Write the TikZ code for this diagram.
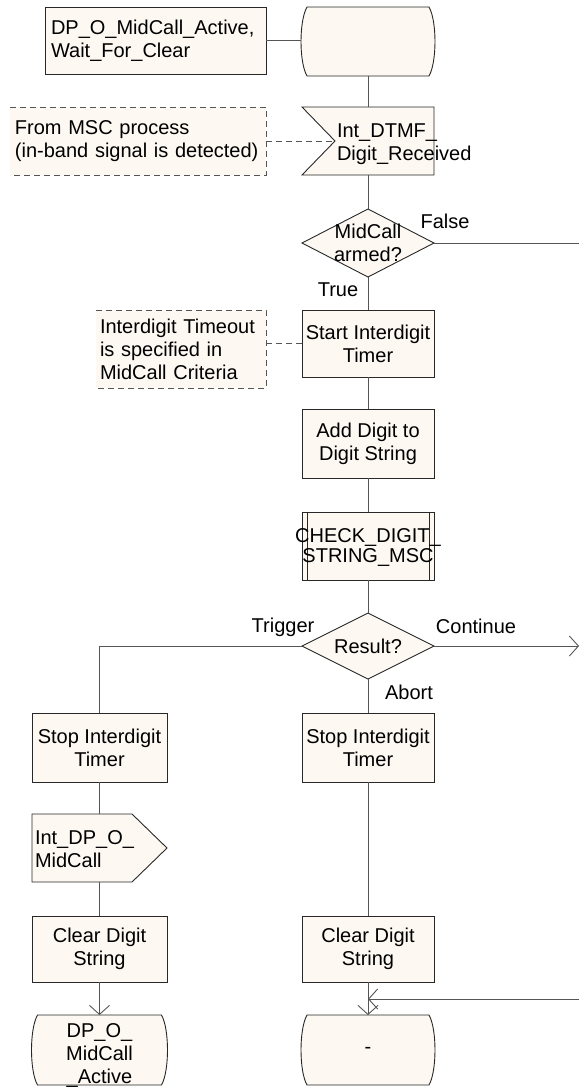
\documentclass[tikz,border=0pt]{standalone}
\usepackage{fontspec}
\setmainfont{Liberation Sans}
\usetikzlibrary{arrows.meta,backgrounds}
\definecolor{boxfill}{RGB}{253,248,242}
\definecolor{edgec}{RGB}{40,40,40}
\definecolor{wirec}{RGB}{85,85,85}
\newcommand\sdlstate[1]{\draw[boxline, fill=boxfill] ([xshift=6pt]#1.north west) -- ([xshift=-6pt]#1.north east) .. controls ([xshift=2pt,yshift=-14pt]#1.north east) and ([xshift=2pt,yshift=14pt]#1.south east) .. ([xshift=-6pt]#1.south east) -- ([xshift=6pt]#1.south west) .. controls ([xshift=-2pt,yshift=14pt]#1.south west) and ([xshift=-2pt,yshift=-14pt]#1.north west) .. cycle;}
\begin{document}
\begin{tikzpicture}[x=1pt,y=-1pt,
  every node/.style={inner sep=0pt, outer sep=0pt, font=\fontsize{20}{23}\selectfont},
  boxline/.style={draw=edgec, line width=0.9pt},
  taskbox/.style={boxline, fill=boxfill, minimum width=132pt, align=center},
  wire/.style={draw=wirec, line width=0.9pt},
  note/.style={draw=wirec, line width=0.9pt, dash pattern=on 6pt off 4pt},
  barb/.style={-{Straight Barb[length=9pt,width=20pt]}}
]
\useasboundingbox (0,0) rectangle (579,1088);

% nodes
\node[taskbox, minimum width=221pt, minimum height=67pt, text width=209pt, inner xsep=6pt, align=left] (hdr) at (155.5,40.5) {DP\_O\_MidCall\_Active,\\Wait\_For\_Clear};
\node[minimum width=134pt, minimum height=69pt] (s0) at (368,41.5) {};

\node[fill=boxfill, minimum width=256pt, minimum height=68pt, text width=246pt, inner xsep=5pt, align=left] (c1) at (138,141) {From MSC process\\(in-band signal is detected)};
\node[minimum width=132pt, minimum height=68pt] (in1) at (368,141) {};

\node[minimum width=132pt, minimum height=68pt, align=center] (d1) at (368,243) {MidCall\\armed?};

\node[taskbox, minimum height=67pt] (start) at (368,343.5) {Start Interdigit\\Timer};
\node[fill=boxfill, minimum width=170pt, minimum height=78pt, text width=162pt, inner xsep=4pt, align=left] (c2) at (181,349) {Interdigit Timeout\\is specified in\\MidCall Criteria};

\node[taskbox, minimum height=69pt] (add) at (368,443.5) {Add Digit to\\Digit String};
\node[taskbox, minimum height=68pt] (chk) at (368,546) {};
\draw[boxline] ([xshift=5pt]chk.north west) -- ([xshift=5pt]chk.south west);
\draw[boxline] ([xshift=-5pt]chk.north east) -- ([xshift=-5pt]chk.south east);
\node[font=\fontsize{20}{20}\selectfont, align=center] (chkt) at (368,547) {CHECK\_DIGIT\_\\STRING\_MSC};

\node[minimum width=132pt, minimum height=66pt] (res) at (368,646) {Result?};

\node[taskbox, minimum width=135pt, minimum height=69pt] (stopL) at (99.5,747.5) {Stop Interdigit\\Timer};
\node[taskbox, minimum height=69pt] (stopM) at (368,747.5) {Stop Interdigit\\Timer};
\node[minimum width=135pt, minimum height=68pt] (outL) at (99.5,848) {};
\node[taskbox, minimum width=135pt, minimum height=66pt] (clrL) at (99.5,949) {Clear Digit\\String};
\node[taskbox, minimum height=66pt] (clrM) at (368,949) {Clear Digit\\String};
\node[minimum width=136pt, minimum height=70pt] (stL) at (99.5,1050) {};
\node[minimum width=134pt, minimum height=70pt] (stM) at (368,1050) {-};

\coordinate (falseEnd) at (579,243);
\coordinate (contEnd) at (579,646);
\coordinate (loopIn) at (579,999);

% shape outlines
\begin{pgfonlayer}{background}
\sdlstate{s0}
\sdlstate{stL}
\sdlstate{stM}
\draw[boxline, fill=boxfill] (in1.north west) -- (in1.north east) -- (in1.south east) -- (in1.south west) -- ([xshift=33pt]in1.west) -- cycle;
\draw[boxline, fill=boxfill] (d1.north) -- (d1.east) -- (d1.south) -- (d1.west) -- cycle;
\draw[boxline, fill=boxfill] (res.north) -- (res.east) -- (res.south) -- (res.west) -- cycle;
\draw[boxline, fill=boxfill] (outL.north west) -- ([xshift=-35pt]outL.north east) -- (outL.east) -- ([xshift=-35pt]outL.south east) -- (outL.south west) -- cycle;
\end{pgfonlayer}

% texts placed over shapes
\node[anchor=west, align=left] (in1t) at (337,144) {Int\_DTMF\_\\Digit\_Received};
\node[anchor=west, align=left] (outLt) at (35,849) {Int\_DP\_O\_\\MidCall};
\node[align=center] (stLt) at (99.5,1055) {DP\_O\_\\MidCall\\\_Active};

% comment borders
\draw[note] (c1.north west) -- (c1.north east) -- (c1.south east) -- (c1.south west);
\draw[note] (c2.north west) -- (c2.north east) -- (c2.south east) -- (c2.south west);

% connectors
\draw[wire] (hdr.east) -- (hdr.east -| s0.west);
\draw[wire] (s0.south) -- (in1.north);
\draw[note] (c1.east) -- ([xshift=33pt]in1.west);
\draw[wire] (in1.south) -- (d1.north);
\draw[wire] (d1.east) -- (falseEnd);
\draw[wire] (d1.south) -- (start.north);
\draw[note] (start.west -| c2.east) -- (start.west);
\draw[wire] (start.south) -- (add.north);
\draw[wire] (add.south) -- (chk.north);
\draw[wire] (chk.south) -- (res.north);
\draw[wire] (res.west) -| (stopL.north);
\draw[wire, barb] (res.east) -- (contEnd);
\draw[wire] (res.south) -- (stopM.north);
\draw[wire] (stopL.south) -- (outL.north);
\draw[wire] (outL.south) -- (clrL.north);
\draw[wire, barb] (clrL.south) -- (stL.north);
\draw[wire] (stopM.south) -- (clrM.north);
\draw[wire, barb] (clrM.south) -- (stM.north);
\draw[wire, barb] (loopIn) -- (loopIn -| clrM.south);

% branch labels
\node (lfalse) at (445,221) {False};
\node (ltrue) at (338,290) {True};
\node (ltrig) at (283,627) {Trigger};
\node (lcont) at (476,626) {Continue};
\node (labort) at (409,692) {Abort};
\end{tikzpicture}
\end{document}
